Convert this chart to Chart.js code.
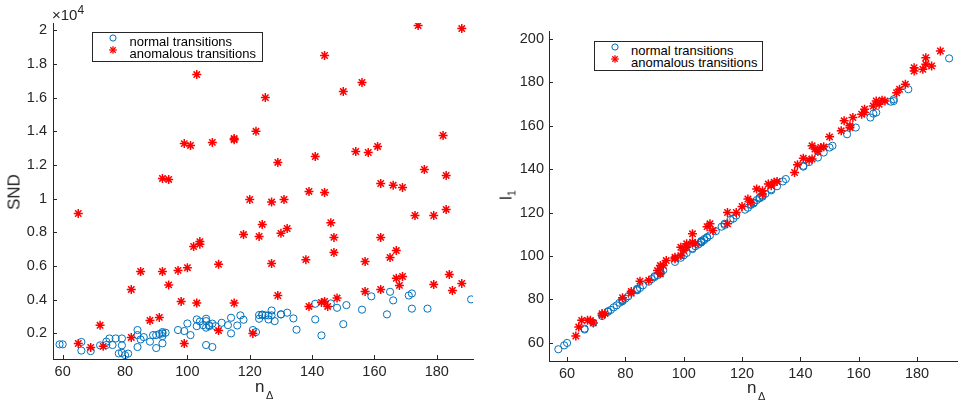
<!DOCTYPE html>
<html>
<head>
<meta charset="utf-8">
<script src="https://cdn.jsdelivr.net/npm/chart.js@4.4.1/dist/chart.umd.min.js"></script>
<style>
  html, body { margin: 0; padding: 0; background: #fff; }
  #wrap { position: relative; width: 963px; height: 403px; overflow: hidden; font-family: 'Liberation Sans', Arial, sans-serif; color: #262626; }
  canvas { position: absolute; top: 0; }
  .lbl { position: absolute; white-space: nowrap; line-height: 1; }
  .legend { position: absolute; box-sizing: border-box; border: 1px solid #262626; background: #fff; }
  .legend .row { position: absolute; height: 14px; line-height: 14px; font-size: 13px; color: #000; white-space: nowrap; }
  .legend svg { position: absolute; overflow: visible; }
</style>
</head>
<body>
<div id="wrap">
  <canvas id="cL" width="490" height="403" style="left:0px;width:490px;height:403px"></canvas>
  <canvas id="cR" width="473" height="403" style="left:490px;width:473px;height:403px"></canvas>

  <!-- left axis labels -->
  <div class="lbl" style="left:52px;top:7px;font-size:15px;">×10<span style="font-size:12px;position:relative;top:-6px;">4</span></div>
  <div class="lbl" style="left:14px;top:191.5px;font-size:17px;transform:translate(-50%,-50%) rotate(-90deg);line-height:17px;">SND</div>
  <div class="lbl" style="left:255px;top:377.6px;font-size:17px;">n</div>
  <div class="lbl" style="left:266px;top:390.2px;font-size:11px;">Δ</div>

  <!-- right axis labels -->
  <div class="lbl" style="left:507px;top:195px;font-size:17px;transform:translate(-50%,-50%) rotate(-90deg);line-height:17px;">l<span style="font-size:11px;position:relative;top:4px;">1</span></div>
  <div class="lbl" style="left:747px;top:378.6px;font-size:17px;">n</div>
  <div class="lbl" style="left:758px;top:390.7px;font-size:11px;">Δ</div>

  <!-- legends -->
  <div class="legend" id="legL" style="left:92px;top:32px;width:171px;height:30px;"></div>
  <div class="legend" id="legR" style="left:594px;top:41px;width:169px;height:30px;"></div>
</div>

<script>
// ---------------- DATA ----------------
// Left panel: SND vs n_Delta
const normalN_L = [59,60,66,66,69,72,74,74,75,76,77,78,79,79,79,80,81,84,84,84,85,86,88,89,90,90,91,92,92,92,93,92,97,99,101,100,103,103,104,105,106,106,106,107,107,108,109,106,108,111,113,114,114,116,117,118,121,122,123,123,124,124,125,126,127,127,126,128,130,130,132,134,135,141,141,143,146,148,150,151,156,159,164,165,166,171,172,172,177,191];
const normalSND = [1350,1350,1490,980,950,1290,1310,1510,1700,1310,1700,810,1700,1290,850,710,800,2200,1900,1190,1640,1780,1510,1900,1900,1130,1960,2000,2080,1840,2040,1410,2200,2140,1900,2590,2830,2430,2710,2490,2730,2340,2870,2490,2430,2580,2430,1310,1190,2630,2490,2930,2000,2470,3070,2810,2200,2080,3090,2870,3110,3110,3070,3070,3360,3070,2830,2730,3130,3130,3230,2890,2220,3760,2830,1880,3780,3520,2550,3680,3410,4200,3130,4470,3960,4250,4370,3470,3470,4020];
const anomN_L = [65,65,69,72,73,82,82,85,88,91,92,92,94,94,97,98,99,99,100,101,102,103,103,104,104,108,110,110,115,115,115,118,120,121,122,123,124,125,127,127,129,129,130,131,132,138,139,139,141,143,144,144,144,145,146,147,147,148,150,154,156,157,157,158,161,162,162,162,165,166,167,167,168,169,169,173,174,176,179,179,182,183,183,184,185,188,188];
const anomSND = [9120,1400,1170,2480,1230,4610,1760,5680,2770,2950,11200,5680,11140,4880,5740,3900,13270,1400,5900,13160,7160,17370,3800,7450,7300,13340,6100,2170,13570,13500,3800,7870,9950,2000,14000,7760,8470,16000,9800,6150,12150,4250,7940,9950,8230,6380,10430,3600,12500,3840,18500,10370,3900,3600,8570,7700,6800,4100,16360,12800,16900,6270,4490,12740,13100,10900,7700,4610,6510,10800,6920,5270,4850,10670,5380,9000,20280,11730,9000,4900,13750,11380,9360,5500,4550,20100,4970];

// Right panel: l_1 vs n_Delta
const normalN_R = [57,59,60,66,66,69,72,74,74,75,76,77,78,79,79,79,80,81,84,84,84,85,86,88,89,90,90,91,92,92,92,93,92,97,99,101,100,103,103,104,105,106,106,106,107,107,108,109,106,108,111,113,114,114,116,117,118,121,122,123,123,124,124,125,126,127,127,126,128,130,130,132,134,135,141,141,143,146,148,150,151,156,159,164,165,166,171,172,172,177,191];
const normalL1 = [57.1,58.9,60.0,66.6,66.2,69.3,72.4,74.3,74.6,75.2,76.4,77.3,78.5,79.2,79.6,79.9,80.4,81.5,84.2,84.6,84.9,85.3,86.5,88.2,89.4,90.3,90.7,91.2,92.4,92.8,92.1,93.5,92.6,97.3,99.2,101.4,100.3,103.2,103.6,104.5,105.3,106.2,106.7,106.4,107.3,107.8,108.4,109.5,106.9,108.7,111.4,113.5,114.3,114.8,116.6,117.2,118.6,121.3,122.2,123.5,123.8,124.2,124.6,125.7,126.5,127.3,127.8,126.9,128.6,130.2,130.7,132.1,134.3,135.4,141.1,141.5,143.2,145.3,147.6,149.9,150.7,156.0,159.1,163.7,165.5,166.0,171.0,171.3,172.1,176.7,190.9];
const anomN_R = [63,64,65,67,68,69,72,72,73,79,82,82,85,88,91,92,93,94,92,97,97,99,99,100,101,101,103,103,104,108,109,110,115,118,115,120,122,123,125,127,127,129,130,131,132,138,139,141,143,144,144,145,146,147,148,150,154,155,157,158,157,161,162,162,165,166,167,168,169,173,174,176,179,179,182,183,183,185,188];
const anomL1 = [63.2,67.3,70.4,70.4,70.4,69.2,73.5,72.7,73.5,80.8,83.7,82.9,88.4,88.8,93.3,95.6,95.6,97.9,91.8,99.4,98.7,100.2,104,102.5,105.6,104,110.2,106.3,105.6,113.5,114.8,111.7,120,120,114.8,122.8,126.2,124.7,130.8,128.5,130,133.1,132.3,133.9,134.3,138.4,142,145,144.1,144.6,150.7,149.2,148.1,149.9,150.2,154.8,157.6,162.2,159.9,163.7,159.1,165.2,167.5,166,169,171.3,169.8,171.7,171.3,175.1,176.7,179,186.6,185.1,185.9,191.2,188.2,187.4,194.3];

// Tick labels
const leftXTicks = [60,80,100,120,140,160,180];
const leftYTicks = [2000,4000,6000,8000,10000,12000,14000,16000,18000,20000];
const rightXTicks = [60,80,100,120,140,160,180];
const rightYTicks = [60,80,100,120,140,160,180,200];
const legendLabels = ['normal transitions', 'anomalous transitions'];

// ---------------- STYLE ----------------
const BLUE = '#0072BD';
const RED = '#FF0000';
const AX = '#262626';
const FONT = "'Liberation Sans', Arial, sans-serif";

const pts = (xs, ys) => xs.map((x, i) => ({ x: x, y: ys[i] }));

const inwardTicks = {
  id: 'inwardTicks',
  afterDraw(chart) {
    const ctx = chart.ctx;
    const a = chart.chartArea;
    const xs = chart.scales.x, ys = chart.scales.y;
    ctx.save();
    ctx.strokeStyle = AX;
    ctx.lineWidth = 1;
    xs.ticks.forEach(t => {
      const p = Math.round(xs.getPixelForValue(t.value)) + 0.5;
      ctx.beginPath(); ctx.moveTo(p, a.bottom); ctx.lineTo(p, a.bottom - 4); ctx.stroke();
    });
    ys.ticks.forEach(t => {
      const p = Math.round(ys.getPixelForValue(t.value)) + 0.5;
      ctx.beginPath(); ctx.moveTo(a.left, p); ctx.lineTo(a.left + 4, p); ctx.stroke();
    });
    ctx.restore();
  }
};

function makeScatter(canvasId, cfg) {
  return new Chart(document.getElementById(canvasId), {
    type: 'scatter',
    data: {
      datasets: [
        { label: legendLabels[0], data: cfg.normal, pointStyle: 'circle', pointRadius: 3.6, pointHoverRadius: 3.6,
          borderColor: BLUE, backgroundColor: 'rgba(0,0,0,0)', borderWidth: 1, order: 2 },
        { label: legendLabels[1], data: cfg.anom, pointStyle: 'star', pointRadius: 4.5, pointHoverRadius: 4.5,
          borderColor: RED, backgroundColor: RED, borderWidth: 1.5, order: 1 }
      ]
    },
    options: {
      responsive: false, animation: false, devicePixelRatio: 1,
      layout: { padding: { top: cfg.top, right: cfg.right, left: 0, bottom: 0 } },
      plugins: { legend: { display: false }, tooltip: { enabled: false } },
      scales: {
        x: {
          type: 'linear', min: cfg.xmin, max: cfg.xmax,
          afterBuildTicks: s => { s.ticks = cfg.xTicks.map(v => ({ value: v })); },
          afterFit: s => { s.height = cfg.xh; },
          grid: { display: false, drawTicks: false },
          border: { display: true, color: AX, width: 1 },
          ticks: { font: { family: FONT, size: 14.5 }, color: AX, padding: 4, maxRotation: 0, autoSkip: false }
        },
        y: {
          type: 'linear', min: cfg.ymin, max: cfg.ymax,
          afterBuildTicks: s => { s.ticks = cfg.yTicks.map(v => ({ value: v })); },
          afterFit: s => { s.width = cfg.yw; },
          grid: { display: false, drawTicks: false },
          border: { display: true, color: AX, width: 1 },
          ticks: { font: { family: FONT, size: 14.5 }, color: AX, padding: cfg.ypad, autoSkip: false,
                   callback: cfg.yfmt }
        }
      }
    },
    plugins: [inwardTicks]
  });
}

makeScatter('cL', {
  normal: pts(normalN_L, normalSND), anom: pts(anomN_L, anomSND),
  top: 23, right: 17, xh: 44, yw: 53, ypad: 6,
  xmin: 56.9, xmax: 191.6, ymin: 480, ymax: 20430,
  xTicks: leftXTicks, yTicks: leftYTicks,
  yfmt: v => String(Math.round(v / 1000) / 10)
});

makeScatter('cR', {
  normal: pts(normalN_R, normalL1), anom: pts(anomN_R, anomL1),
  top: 31, right: 0, xh: 42, yw: 59, ypad: 5,
  xmin: 53.8, xmax: 193.7, ymin: 51.7, ymax: 203.5,
  xTicks: rightXTicks, yTicks: rightYTicks,
  yfmt: v => String(v)
});

// ---------------- LEGENDS (HTML) ----------------
function circleSvg() {
  return '<svg width="8" height="8" style="left:16px;top:-1px" viewBox="-4 -4 8 8"><circle cx="0" cy="0" r="3.1" fill="none" stroke="' + BLUE + '" stroke-width="1"/></svg>';
}
function starSvg() {
  const r = 3.8, d = r * 0.7071;
  return '<svg width="8" height="8" style="left:16px;top:-1px" viewBox="-4 -4 8 8"><g stroke="' + RED + '" stroke-width="1.3">' +
    '<line x1="' + (-r) + '" y1="0" x2="' + r + '" y2="0"/><line x1="0" y1="' + (-r) + '" x2="0" y2="' + r + '"/>' +
    '<line x1="' + (-d) + '" y1="' + (-d) + '" x2="' + d + '" y2="' + d + '"/><line x1="' + (-d) + '" y1="' + d + '" x2="' + d + '" y2="' + (-d) + '"/></g></svg>';
}
function buildLegend(id, textLeft) {
  const el = document.getElementById(id);
  el.innerHTML =
    '<div class="row" style="left:0;top:1.5px;width:100%">' + circleSvg() + '<span style="position:absolute;left:' + textLeft + 'px">' + legendLabels[0] + '</span></div>' +
    '<div class="row" style="left:0;top:14px;width:100%">' + starSvg() + '<span style="position:absolute;left:' + textLeft + 'px">' + legendLabels[1] + '</span></div>';
}
buildLegend('legL', 36.5);
buildLegend('legR', 36);
</script>
</body>
</html>
